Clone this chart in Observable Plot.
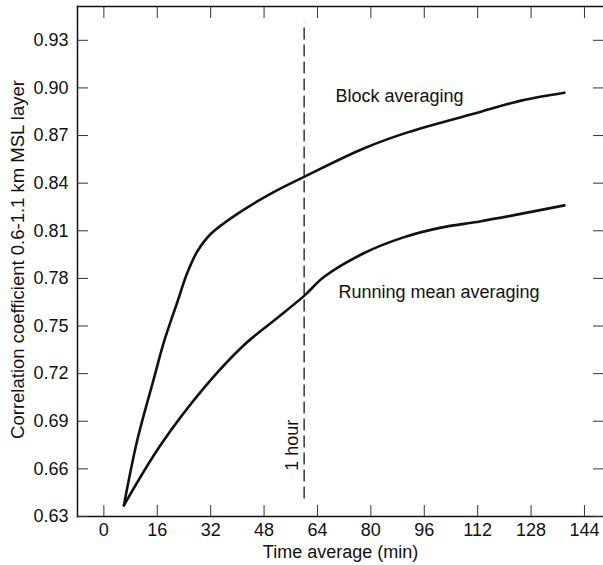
<!DOCTYPE html>
<html>
<head>
<meta charset="utf-8">
<script src="https://cdn.jsdelivr.net/npm/d3@7"></script>
<script src="https://cdn.jsdelivr.net/npm/@observablehq/plot@0.6"></script>
<style>
  html, body { margin: 0; padding: 0; background: #fff; }
  svg { display: block; }
</style>
</head>
<body>
<div id="chart"></div>
<script>
// Data
const blockX = [6, 10, 15, 18, 22, 25, 28, 32, 40, 51, 60, 78, 91, 113, 125, 138];
const blockY = [0.637, 0.678, 0.717, 0.740, 0.765, 0.7835, 0.797, 0.808, 0.8207, 0.8345, 0.844, 0.862, 0.872, 0.885, 0.892, 0.897];
const runX = [6, 17, 30, 42, 51, 60, 66, 78, 90, 101, 113, 138];
const runY = [0.637, 0.675, 0.711, 0.738, 0.7535, 0.769, 0.781, 0.796, 0.806, 0.812, 0.816, 0.826];
const xTicks = [0, 16, 32, 48, 64, 80, 96, 112, 128, 144];
const yTicks = [0.63, 0.66, 0.69, 0.72, 0.75, 0.78, 0.81, 0.84, 0.87, 0.90, 0.93];
const hourX = 60;
const hourSpan = [0.641, 0.941];
const labels = [
  {x: 69.4, y: 0.8947, text: "Block averaging"},
  {x: 70.3, y: 0.7713, text: "Running mean averaging"}
];

const block = blockX.map((x, i) => ({x, y: blockY[i]}));
const run = runX.map((x, i) => ({x, y: runY[i]}));
const fmt = d3.format(".2f");
const FONT = "'Liberation Sans', Arial, Helvetica, sans-serif";

const chart = Plot.plot({
  width: 603,
  height: 565,
  marginLeft: 77,
  marginRight: 0,
  marginTop: 6,
  marginBottom: 49,
  style: {fontFamily: FONT, fontSize: "18px", color: "#111", background: "#fff"},
  x: {domain: [-7.9, 149.7]},
  y: {domain: [0.63, 0.9513]},
  marks: [
    Plot.frame({anchor: "left", stroke: "#111", strokeWidth: 1.5}),
    Plot.frame({anchor: "bottom", stroke: "#111", strokeWidth: 1.5}),
    Plot.frame({anchor: "top", stroke: "#111", strokeWidth: 1.5}),
    // inward ticks
    Plot.axisX(xTicks, {anchor: "bottom", tickSize: -11, tickFormat: () => "", label: null, stroke: "#333"}),
    Plot.axisX(xTicks, {anchor: "top", tickSize: -11, tickFormat: () => "", label: null, stroke: "#333"}),
    Plot.axisY(yTicks, {anchor: "left", tickSize: -11, tickFormat: () => "", label: null, stroke: "#333"}),
    Plot.axisY(yTicks, {anchor: "right", tickSize: -11, tickFormat: () => "", label: null, stroke: "#333"}),
    // tick labels
    Plot.axisX(xTicks, {anchor: "bottom", tickSize: 0, tickPadding: 7, fontSize: 18, label: null, fill: "#111"}),
    Plot.axisY(yTicks, {anchor: "left", tickSize: 0, tickPadding: 9, tickFormat: fmt, fontSize: 18, label: null, fill: "#111"}),
    // axis titles
    Plot.text(["Time average (min)"], {frameAnchor: "bottom", dy: 36, lineAnchor: "middle", fontSize: 18, fill: "#111"}),
    Plot.text(["Correlation coefficient 0.6-1.1 km MSL layer"], {frameAnchor: "left", dx: -59, dy: -2, rotate: -90, textAnchor: "middle", lineAnchor: "middle", fontSize: 18.5, fill: "#111"}),
    // 1 hour marker
    Plot.ruleX([hourX], {y1: hourSpan[0], y2: hourSpan[1], stroke: "#000", strokeWidth: 1.2, strokeDasharray: "12,5"}),
    Plot.text(["1 hour"], {x: () => hourX, y: () => 0.673, dx: -12, dy: -3, rotate: -90, textAnchor: "middle", lineAnchor: "middle", fontSize: 18, fill: "#111"}),
    // curves
    Plot.line(block, {x: "x", y: "y", curve: "catmull-rom", stroke: "#111", strokeWidth: 2.6}),
    Plot.line(run, {x: "x", y: "y", curve: "catmull-rom", stroke: "#111", strokeWidth: 2.6}),
    Plot.text(labels, {x: "x", y: "y", text: "text", textAnchor: "start", lineAnchor: "middle", fontSize: 18, fill: "#111"})
  ]
});
document.getElementById("chart").append(chart);
</script>
</body>
</html>
